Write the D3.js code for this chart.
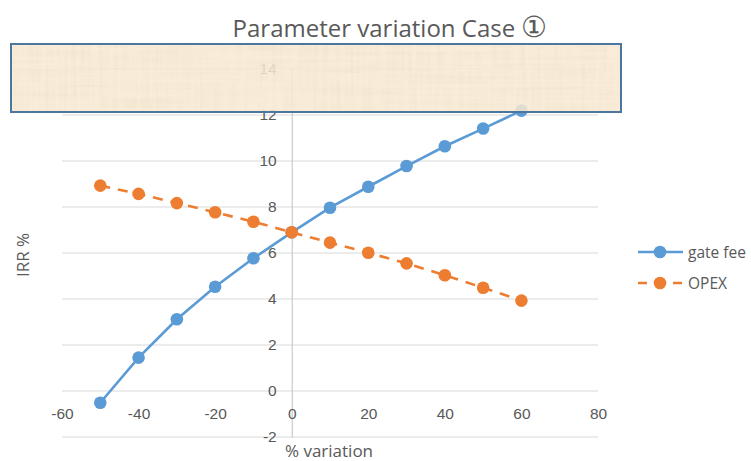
<!DOCTYPE html>
<html>
<head>
<meta charset="utf-8">
<script src="https://cdn.jsdelivr.net/npm/d3@7"></script>
<style>
  body { margin: 0; background: #fff; }
  svg { font-family: "Open Sans", "Liberation Sans", sans-serif; }
</style>
</head>
<body>
<svg class="chart" width="751" height="461"></svg>
<script>
// data
var variation = [-50, -40, -30, -20, -10, 0, 10, 20, 30, 40, 50, 60];
var gateFee = [-0.51, 1.45, 3.12, 4.53, 5.77, 6.9, 7.97, 8.88, 9.78, 10.64, 11.41, 12.19];
var opex = [8.93, 8.57, 8.17, 7.77, 7.36, 6.9, 6.45, 6.01, 5.55, 5.03, 4.49, 3.93];
var seriesNames = ["gate fee", "OPEX"];
var xTicks = [-60, -40, -20, 0, 20, 40, 60, 80];
var yTicks = [-2, 0, 2, 4, 6, 8, 10, 12, 14];

var chart = d3.select("svg.chart"),
    grey = "#595959",
    colors = ["#5B9BD5", "#ED7D31"],
    fmt = function(d) { return String(d); };   // plain hyphen like Excel

var xScale = d3.scaleLinear().domain([-60, 80]).range([62, 598]),
    yScale = d3.scaleLinear().domain([-2, 14]).range([437, 69]);

// gridlines
chart.append("g").selectAll("line")
  .data(yTicks).enter().append("line")
  .attr("x1", xScale(-60)).attr("x2", xScale(80))
  .attr("y1", function(d) { return yScale(d); })
  .attr("y2", function(d) { return yScale(d); })
  .attr("stroke", "#d9d9d9").attr("stroke-width", 1);

// y axis sits on x = 0, x axis labels next to y = 0
var yAxis = d3.axisLeft(yScale).tickValues(yTicks).tickFormat(fmt).tickSize(0).tickPadding(15);
var yG = chart.append("g").attr("id", "yAxisG")
  .attr("transform", "translate(" + xScale(0) + ",0)").call(yAxis);
yG.select(".domain").attr("stroke", "#bfbfbf");
yG.selectAll("text").attr("fill", grey).style("font-size", "15.5px")
  .attr("font-family", null);

var xAxis = d3.axisBottom(xScale).tickValues(xTicks).tickFormat(fmt).tickSize(0).tickPadding(17);
var xG = chart.append("g").attr("id", "xAxisG")
  .attr("transform", "translate(0," + yScale(0) + ")").call(xAxis);
xG.select(".domain").remove();
xG.selectAll("text").attr("fill", grey).style("font-size", "15.5px")
  .attr("font-family", null);

// series
var series = [gateFee, opex];
var line = d3.line()
  .x(function(d, i) { return xScale(variation[i]); })
  .y(function(d) { return yScale(d); });

series.forEach(function(vals, s) {
  chart.append("path")
    .attr("d", line(vals))
    .attr("fill", "none")
    .attr("stroke", colors[s])
    .attr("stroke-width", 2.6)
    .attr("stroke-dasharray", s == 1 ? "10,8" : null);
  chart.append("g").selectAll("circle")
    .data(vals).enter().append("circle")
    .attr("cx", function(d, i) { return xScale(variation[i]); })
    .attr("cy", function(d) { return yScale(d); })
    .attr("r", 6.3)
    .attr("fill", colors[s]);
});

// titles
var title = chart.append("text").attr("x", 390).attr("y", 37)
  .attr("text-anchor", "middle").attr("fill", grey)
  .style("font-size", "24px");
title.append("tspan").text("Parameter variation Case ");
title.append("tspan").style("font-size", "29px").text("\u2460");

chart.append("text").attr("x", 329).attr("y", 457)
  .attr("text-anchor", "middle").attr("fill", grey)
  .style("font-size", "17px").text("% variation");

chart.append("text")
  .attr("transform", "translate(29,255) rotate(-90)")
  .attr("text-anchor", "middle").attr("fill", grey)
  .style("font-size", "17px").text("IRR %");

// legend
var legend = chart.append("g").selectAll("g")
  .data(seriesNames).enter().append("g")
  .attr("transform", function(d, i) { return "translate(638," + (252 + i * 31) + ")"; });
legend.append("line")
  .attr("x1", 0).attr("x2", 45).attr("y1", 0).attr("y2", 0)
  .attr("stroke", function(d, i) { return colors[i]; })
  .attr("stroke-width", 2.6)
  .attr("stroke-dasharray", function(d, i) { return i == 1 ? "9,26" : null; });
legend.append("circle").attr("cx", 22).attr("cy", 0).attr("r", 6.3)
  .attr("fill", function(d, i) { return colors[i]; });
legend.append("text").attr("x", 50).attr("y", 5.5)
  .attr("fill", grey).style("font-size", "15.5px")
  .text(function(d) { return d; });

// papyrus-like box laid over the top of the chart
var defs = chart.append("defs");
var f = defs.append("filter").attr("id", "papyrus")
  .attr("x", 0).attr("y", 0).attr("width", 1).attr("height", 1);
f.append("feTurbulence").attr("type", "fractalNoise")
  .attr("baseFrequency", "0.01 0.25").attr("numOctaves", 3).attr("seed", 3).attr("result", "h");
f.append("feTurbulence").attr("type", "fractalNoise")
  .attr("baseFrequency", "0.22 0.012").attr("numOctaves", 3).attr("seed", 7).attr("result", "v");
f.append("feComposite").attr("in", "h").attr("in2", "v")
  .attr("operator", "arithmetic").attr("k2", 0.5).attr("k3", 0.5).attr("result", "n");
f.append("feColorMatrix").attr("in", "n").attr("type", "matrix")
  .attr("values", "0 0 0 0 0.84  0 0 0 0 0.72  0 0 0 0 0.54  1.1 0 0 0 -0.4");

chart.append("rect")
  .attr("x", 11).attr("y", 44).attr("width", 610).attr("height", 68)
  .attr("fill", "#f8ead3").attr("fill-opacity", 0.84);
chart.append("rect")
  .attr("x", 11).attr("y", 44).attr("width", 610).attr("height", 68)
  .attr("filter", "url(#papyrus)");
chart.append("rect")
  .attr("x", 11).attr("y", 44).attr("width", 610).attr("height", 68)
  .attr("fill", "none").attr("stroke", "#4a76a0").attr("stroke-width", 2);
</script>
</body>
</html>
